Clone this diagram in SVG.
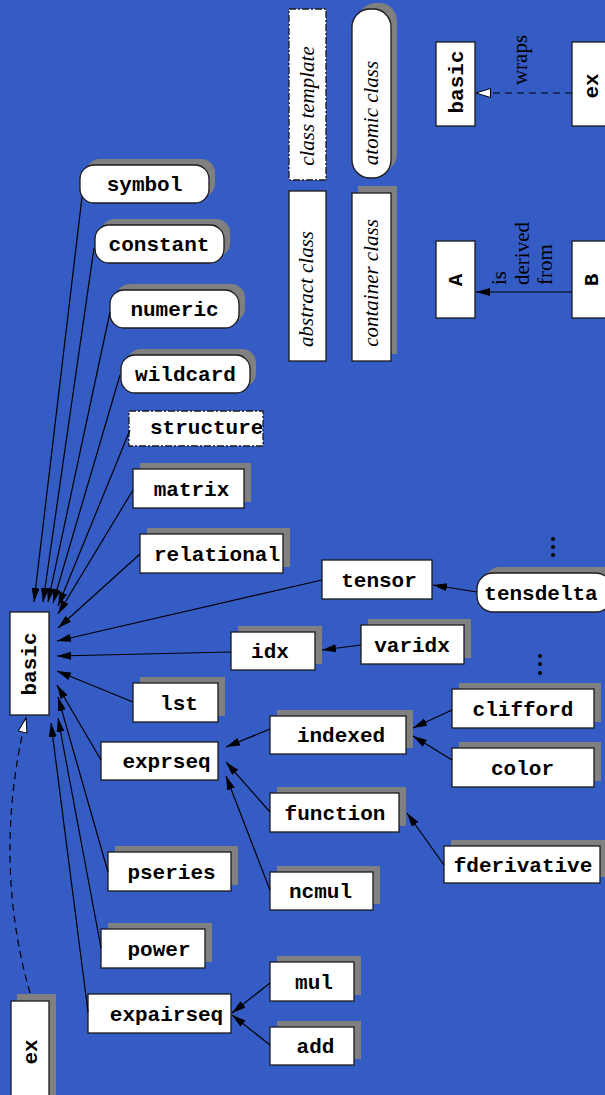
<svg xmlns="http://www.w3.org/2000/svg" width="605" height="1095" viewBox="0 0 605 1095">
<defs>
<style>
.bx{fill:#fff;stroke:#1a1a1a;stroke-width:1.3}
.sh{fill:#808080}
.dsh{fill:#fff;stroke:#1a1a1a;stroke-width:1.3;stroke-dasharray:7,2,2,2}
.t{font-family:"Liberation Mono",monospace;font-weight:bold;font-size:21px;fill:#000;text-anchor:middle}
.ts{font-family:"Liberation Mono",monospace;font-weight:bold;font-size:21px;fill:#000}
.it{font-family:"Liberation Serif",serif;font-style:italic;font-size:21px;fill:#000;text-anchor:middle}
.sf{font-family:"Liberation Serif",serif;font-size:21px;fill:#000}
.ln{fill:none;stroke:#000;stroke-width:1.2}
.dl{fill:none;stroke:#000;stroke-width:1.2;stroke-dasharray:7,5}
</style>
<marker id="ah" markerUnits="userSpaceOnUse" markerWidth="15" markerHeight="9" refX="14" refY="4" orient="auto">
<path d="M0,0 L14,4 L0,8 Z" fill="#000"/>
</marker>
<marker id="hh" markerUnits="userSpaceOnUse" markerWidth="16" markerHeight="11" refX="15" refY="5" orient="auto">
<path d="M0.5,0.5 L15,5 L0.5,9.5 Z" fill="#fff" stroke="#000" stroke-width="1"/>
</marker>
</defs>
<rect x="0" y="0" width="605" height="1095" fill="#345cc4"/>

<!-- legend -->
<g id="legend-class-template">
<rect class="dsh" x="289" y="9" width="37" height="171"/>
<text class="it" transform="translate(314,106) rotate(-90)">class template</text>
</g>
<g id="legend-atomic-class">
<rect class="sh" x="358" y="3" width="39" height="169" rx="18"/>
<rect class="bx" x="352" y="9" width="39" height="169" rx="18"/>
<text class="it" transform="translate(378,113) rotate(-90)">atomic class</text>
</g>
<g id="legend-abstract-class">
<rect class="bx" x="289" y="191" width="37" height="170"/>
<text class="it" transform="translate(313,289) rotate(-90)">abstract class</text>
</g>
<g id="legend-container-class">
<rect class="sh" x="358" y="186" width="39" height="168"/>
<rect class="bx" x="352" y="193" width="39" height="168"/>
<text class="it" transform="translate(378,283) rotate(-90)">container class</text>
</g>
<g id="legend-basic">
<rect class="bx" x="436" y="42" width="39" height="84"/>
<text class="t" transform="translate(463,82) rotate(-90)">basic</text>
</g>
<g id="legend-ex">
<rect class="bx" x="572" y="42" width="40" height="84"/>
<text class="t" transform="translate(598,86) rotate(-90)">ex</text>
</g>
<g id="legend-A">
<rect class="bx" x="436" y="241" width="39" height="77"/>
<text class="t" transform="translate(462,280) rotate(-90)">A</text>
</g>
<g id="legend-B">
<rect class="bx" x="572" y="241" width="40" height="77"/>
<text class="t" transform="translate(598,280) rotate(-90)">B</text>
</g>
<g id="legend-labels">
<text class="sf" text-anchor="middle" transform="translate(527,60) rotate(-90)">wraps</text>
<text class="sf" transform="translate(506,285) rotate(-90)">is</text>
<text class="sf" transform="translate(529,285) rotate(-90)">derived</text>
<text class="sf" transform="translate(552,285) rotate(-90)">from</text>
</g>

<!-- nodes -->
<g id="basic">
<rect class="bx" x="10" y="612" width="39" height="103"/>
<text class="t" transform="translate(36,664) rotate(-90)">basic</text>
</g>
<g id="ex">
<rect class="sh" x="17" y="994" width="39" height="110"/>
<rect class="bx" x="11" y="1001" width="38" height="100"/>
<text class="t" transform="translate(37,1052) rotate(-90)">ex</text>
</g>
<g id="symbol">
<rect class="sh" x="86" y="159" width="129" height="38" rx="14"/>
<rect class="bx" x="80" y="165" width="129" height="38" rx="14"/>
<text class="t" x="144.5" y="191">symbol</text>
</g>
<g id="constant">
<rect class="sh" x="101" y="219" width="129" height="38" rx="14"/>
<rect class="bx" x="95" y="225" width="129" height="38" rx="14"/>
<text class="t" x="159" y="251">constant</text>
</g>
<g id="numeric">
<rect class="sh" x="116" y="284" width="129" height="38" rx="14"/>
<rect class="bx" x="110" y="290" width="129" height="38" rx="14"/>
<text class="t" x="174.5" y="316">numeric</text>
</g>
<g id="wildcard">
<rect class="sh" x="127" y="349" width="129" height="38" rx="14"/>
<rect class="bx" x="121" y="355" width="129" height="38" rx="14"/>
<text class="t" x="185.5" y="381">wildcard</text>
</g>
<g id="structure">
<rect class="dsh" x="129" y="411" width="134" height="35"/>
<text class="ts" x="150" y="434">structure</text>
</g>
<g id="matrix">
<rect class="sh" x="140" y="463" width="111" height="39"/>
<rect class="bx" x="133" y="469" width="111" height="39"/>
<text class="t" x="191.5" y="495.5">matrix</text>
</g>
<g id="relational">
<rect class="sh" x="147" y="528" width="143" height="39"/>
<rect class="bx" x="140" y="534" width="143" height="39"/>
<text class="t" x="217" y="560.5">relational</text>
</g>
<g id="tensor">
<rect class="bx" x="322" y="560" width="110" height="39"/>
<text class="t" x="379" y="586.5">tensor</text>
</g>
<g id="tensdelta">
<rect class="sh" x="484" y="567" width="135" height="39" rx="16"/>
<rect class="bx" x="477" y="573" width="135" height="39" rx="16"/>
<text class="t" x="541" y="599.5">tensdelta</text>
</g>
<g id="idx">
<rect class="sh" x="238" y="626" width="84" height="38"/>
<rect class="bx" x="231" y="632" width="84" height="38"/>
<text class="t" x="270" y="658">idx</text>
</g>
<g id="varidx">
<rect class="sh" x="368" y="619" width="103" height="39"/>
<rect class="bx" x="361" y="625" width="103" height="39"/>
<text class="t" x="412" y="651.5">varidx</text>
</g>
<g id="lst">
<rect class="sh" x="140" y="677" width="85" height="39"/>
<rect class="bx" x="133" y="683" width="85" height="39"/>
<text class="t" x="179" y="709.5">lst</text>
</g>
<g id="indexed">
<rect class="sh" x="277" y="710" width="136" height="38"/>
<rect class="bx" x="270" y="716" width="136" height="38"/>
<text class="t" x="341" y="742">indexed</text>
</g>
<g id="clifford">
<rect class="sh" x="459" y="683" width="142" height="39"/>
<rect class="bx" x="452" y="689" width="142" height="39"/>
<text class="t" x="523" y="715.5">clifford</text>
</g>
<g id="color">
<rect class="sh" x="459" y="742" width="142" height="39"/>
<rect class="bx" x="452" y="748" width="142" height="39"/>
<text class="t" x="522.5" y="774.5">color</text>
</g>
<g id="exprseq">
<rect class="bx" x="101" y="742" width="117" height="38"/>
<text class="t" x="166.5" y="768">exprseq</text>
</g>
<g id="function">
<rect class="sh" x="277" y="787" width="129" height="39"/>
<rect class="bx" x="270" y="793" width="129" height="39"/>
<text class="t" x="335" y="819.5">function</text>
</g>
<g id="fderivative">
<rect class="sh" x="451" y="840" width="156" height="37"/>
<rect class="bx" x="444" y="846" width="156" height="37"/>
<text class="t" x="523" y="871.5">fderivative</text>
</g>
<g id="ncmul">
<rect class="sh" x="277" y="866" width="103" height="38"/>
<rect class="bx" x="270" y="872" width="103" height="38"/>
<text class="t" x="320.5" y="898">ncmul</text>
</g>
<g id="pseries">
<rect class="sh" x="115" y="846" width="123" height="39"/>
<rect class="bx" x="108" y="852" width="123" height="39"/>
<text class="t" x="171.5" y="878.5">pseries</text>
</g>
<g id="power">
<rect class="sh" x="108" y="923" width="104" height="39"/>
<rect class="bx" x="101" y="929" width="104" height="39"/>
<text class="t" x="159" y="955.5">power</text>
</g>
<g id="expairseq">
<rect class="bx" x="88" y="994" width="143" height="39"/>
<text class="t" x="166.5" y="1020.5">expairseq</text>
</g>
<g id="mul">
<rect class="sh" x="277" y="956" width="84" height="39"/>
<rect class="bx" x="270" y="962" width="84" height="39"/>
<text class="t" x="314" y="988.5">mul</text>
</g>
<g id="add">
<rect class="sh" x="277" y="1021" width="84" height="38"/>
<rect class="bx" x="270" y="1027" width="84" height="38"/>
<text class="t" x="315.5" y="1053">add</text>
</g>
<g id="ellipses">
<circle cx="553" cy="539" r="2"/>
<circle cx="553" cy="547" r="2"/>
<circle cx="553" cy="555" r="2"/>
<circle cx="540" cy="656" r="2"/>
<circle cx="540" cy="664" r="2"/>
<circle cx="540" cy="673" r="2"/>
</g>

<!-- connectors -->
<g id="connectors">
<line class="dl" x1="572" y1="93" x2="476" y2="93" marker-end="url(#hh)"/>
<line class="ln" x1="572" y1="292" x2="476" y2="292" marker-end="url(#ah)"/>
<line class="ln" x1="82" y1="197" x2="34" y2="602" marker-end="url(#ah)"/>
<line class="ln" x1="94" y1="248" x2="43" y2="602" marker-end="url(#ah)"/>
<line class="ln" x1="110" y1="312" x2="48" y2="602" marker-end="url(#ah)"/>
<line class="ln" x1="120" y1="375" x2="53" y2="603" marker-end="url(#ah)"/>
<line class="ln" x1="130" y1="430" x2="58" y2="606" marker-end="url(#ah)"/>
<line class="ln" x1="133" y1="490" x2="58" y2="614" marker-end="url(#ah)"/>
<line class="ln" x1="140" y1="554" x2="58" y2="628" marker-end="url(#ah)"/>
<line class="ln" x1="322" y1="580" x2="57" y2="641" marker-end="url(#ah)"/>
<line class="ln" x1="231" y1="652" x2="57" y2="656" marker-end="url(#ah)"/>
<line class="ln" x1="133" y1="702" x2="57" y2="671" marker-end="url(#ah)"/>
<line class="ln" x1="101" y1="760" x2="57" y2="685" marker-end="url(#ah)"/>
<line class="ln" x1="108" y1="872" x2="58" y2="697" marker-end="url(#ah)"/>
<line class="ln" x1="101" y1="948" x2="58" y2="718" marker-end="url(#ah)"/>
<line class="ln" x1="88" y1="1012" x2="51" y2="723" marker-end="url(#ah)"/>
<path class="dl" d="M30,993 Q-8,860 26,718" marker-end="url(#hh)"/>
<line class="ln" x1="477" y1="592" x2="433" y2="585" marker-end="url(#ah)"/>
<line class="ln" x1="361" y1="645" x2="322" y2="650" marker-end="url(#ah)"/>
<line class="ln" x1="452" y1="710" x2="413" y2="728" marker-end="url(#ah)"/>
<line class="ln" x1="452" y1="760" x2="413" y2="736" marker-end="url(#ah)"/>
<line class="ln" x1="444" y1="865" x2="407" y2="813" marker-end="url(#ah)"/>
<line class="ln" x1="270" y1="729" x2="226" y2="747" marker-end="url(#ah)"/>
<line class="ln" x1="270" y1="812" x2="226" y2="762" marker-end="url(#ah)"/>
<line class="ln" x1="270" y1="890" x2="226" y2="776" marker-end="url(#ah)"/>
<line class="ln" x1="270" y1="983" x2="232" y2="1013" marker-end="url(#ah)"/>
<line class="ln" x1="270" y1="1045" x2="232" y2="1015" marker-end="url(#ah)"/>
</g>
</svg>
